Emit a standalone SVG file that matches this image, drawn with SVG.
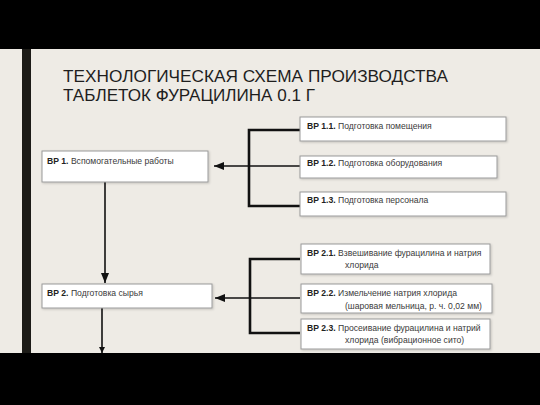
<svg xmlns="http://www.w3.org/2000/svg" width="540" height="405" viewBox="0 0 540 405">
<defs>
<style>
.box{fill:#ffffff;stroke:#9a9a9a;stroke-width:1}
.t{font-family:"Liberation Sans",Arial,sans-serif;font-size:8.6px;fill:#3a3a3a}
.b{font-weight:bold;fill:#222}
.title{font-family:"Liberation Sans",Arial,sans-serif;font-size:16.5px;fill:#1e1e1e}
.br{fill:none;stroke:#111;stroke-width:2.6}
.ln{fill:none;stroke:#111;stroke-width:1.6}
</style>
<marker id="ah" markerWidth="10" markerHeight="8" refX="10" refY="4" orient="auto" markerUnits="userSpaceOnUse">
<path d="M0,0 L10,4 L0,8 Z" fill="#111"/>
</marker>
<marker id="ahs" markerWidth="6" markerHeight="6" refX="6" refY="3" orient="auto" markerUnits="userSpaceOnUse">
<path d="M0,0 L6,3 L0,6 Z" fill="#111"/>
</marker>
<filter id="sh" x="-5%" y="-10%" width="115%" height="130%">
<feDropShadow dx="1" dy="1" stdDeviation="0.8" flood-color="#000" flood-opacity="0.18"/>
</filter>
</defs>
<rect x="0" y="0" width="540" height="405" fill="#eeebe5"/>
<rect x="0" y="0" width="540" height="49" fill="#000"/>
<rect x="0" y="353" width="540" height="52" fill="#000"/>
<rect x="22" y="49" width="9" height="304" fill="#1c1b17"/>

<g id="title">
<text class="title" x="63" y="81.5" textLength="385" lengthAdjust="spacingAndGlyphs">ТЕХНОЛОГИЧЕСКАЯ СХЕМА ПРОИЗВОДСТВА</text>
<text class="title" x="63" y="100.5" textLength="252" lengthAdjust="spacingAndGlyphs">ТАБЛЕТОК ФУРАЦИЛИНА 0.1 Г</text>
</g>

<g id="connectors">
<path class="br" d="M300,130 H249 V206 H300"/>
<path class="ln" d="M300,166 H214" marker-end="url(#ah)"/>
<path class="br" d="M300,259 H250 V333 H300"/>
<path class="ln" d="M300,298 H215" marker-end="url(#ah)"/>
<path class="ln" d="M105,182 V283" marker-end="url(#ah)"/>
<path class="ln" d="M102,308 V353" stroke-width="1.2" marker-end="url(#ahs)"/>
</g>

<g id="bp1">
<rect class="box" x="42" y="151" width="166" height="31" filter="url(#sh)"/>
<text class="t" x="47" y="164"><tspan class="b">ВР 1.</tspan> Вспомогательные работы</text>
</g>
<g id="bp1_1">
<rect class="box" x="300" y="117" width="206" height="24" filter="url(#sh)"/>
<text class="t" x="307" y="129"><tspan class="b">ВР 1.1.</tspan> Подготовка помещения</text>
</g>
<g id="bp1_2">
<rect class="box" x="300" y="156" width="197" height="22" filter="url(#sh)"/>
<text class="t" x="307" y="166"><tspan class="b">ВР 1.2.</tspan> Подготовка оборудования</text>
</g>
<g id="bp1_3">
<rect class="box" x="300" y="192" width="206" height="24" filter="url(#sh)"/>
<text class="t" x="307" y="203"><tspan class="b">ВР 1.3.</tspan> Подготовка персонала</text>
</g>

<g id="bp2">
<rect class="box" x="42" y="284" width="170" height="24" filter="url(#sh)"/>
<text class="t" x="47" y="296"><tspan class="b">ВР 2.</tspan> Подготовка сырья</text>
</g>
<g id="bp2_1">
<rect class="box" x="301" y="244" width="189" height="30" filter="url(#sh)"/>
<text class="t" x="307" y="256"><tspan class="b">ВР 2.1.</tspan> Взвешивание фурацилина и натрия</text>
<text class="t" x="345" y="268">хлорида</text>
</g>
<g id="bp2_2">
<rect class="box" x="301" y="284" width="191" height="29" filter="url(#sh)"/>
<text class="t" x="307" y="296"><tspan class="b">ВР 2.2.</tspan> Измельчение натрия хлорида</text>
<text class="t" x="345" y="309">(шаровая мельница, р. ч. 0,02 мм)</text>
</g>
<g id="bp2_3">
<rect class="box" x="301" y="319" width="189" height="30" filter="url(#sh)"/>
<text class="t" x="307" y="331"><tspan class="b">ВР 2.3.</tspan> Просеивание фурацилина и натрий</text>
<text class="t" x="345" y="343">хлорида (вибрационное сито)</text>
</g>
</svg>
